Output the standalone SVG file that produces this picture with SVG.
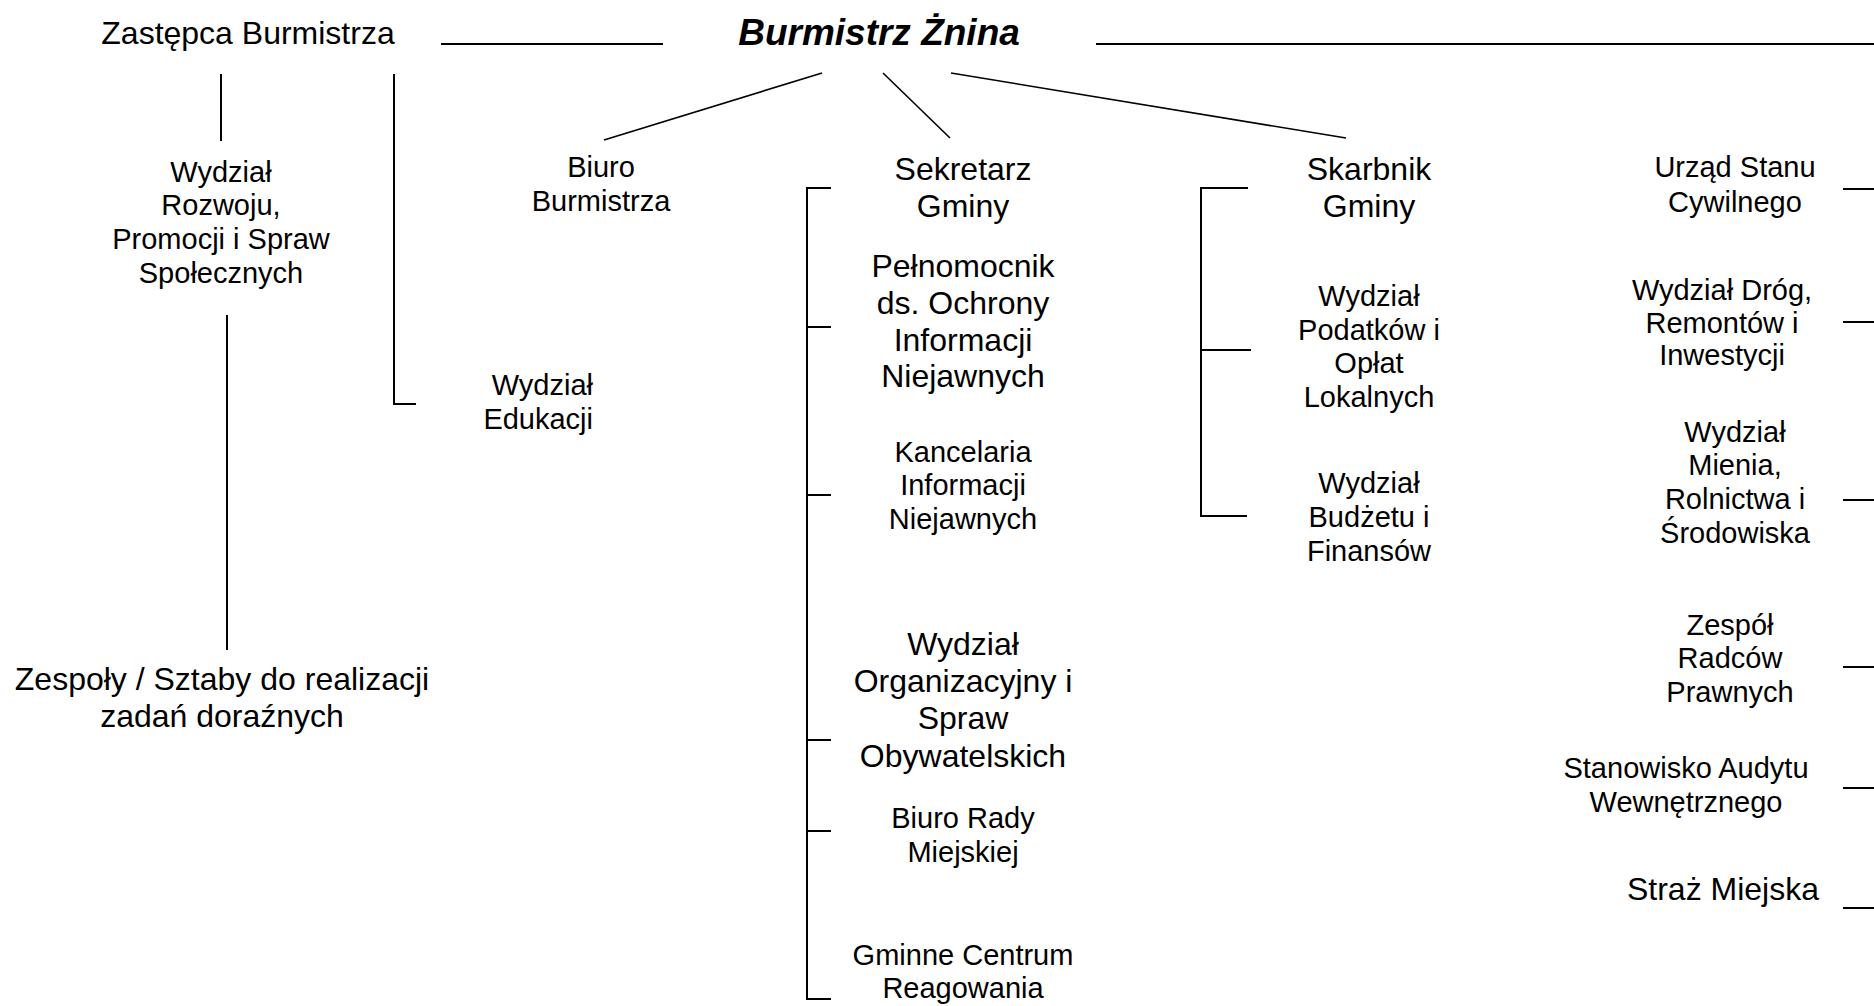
<svg xmlns="http://www.w3.org/2000/svg" width="1874" height="1006" viewBox="0 0 1874 1006">
<style>
text{font-family:"Liberation Sans",Arial,sans-serif;fill:#000;text-anchor:middle}
.s{font-size:29px}
.l{font-size:32px}
.t{font-size:37px;font-weight:bold;font-style:italic}
.c line,.c polyline{stroke:#000;stroke-width:2;fill:none}
.c .d{stroke-width:1.6}
</style>
<rect width="1874" height="1006" fill="#fff"/>
<g id="connectors" class="c">
<line x1="441" y1="44" x2="663" y2="44"/>
<line x1="1096" y1="44" x2="1874" y2="44"/>
<line class="d" x1="822" y1="73" x2="604" y2="140"/>
<line class="d" x1="883" y1="73" x2="950" y2="138"/>
<line class="d" x1="951" y1="73" x2="1346" y2="138"/>
<line x1="221" y1="74" x2="221" y2="141"/>
<polyline points="394,74 394,404 416,404"/>
<line x1="227" y1="315" x2="227" y2="650"/>
<polyline points="831,188 807,188 807,999 831,999"/>
<line x1="807" y1="327" x2="831" y2="327"/>
<line x1="807" y1="495" x2="831" y2="495"/>
<line x1="807" y1="740" x2="831" y2="740"/>
<line x1="807" y1="831" x2="831" y2="831"/>
<polyline points="1248,188 1201,188 1201,516 1247,516"/>
<line x1="1201" y1="350" x2="1251" y2="350"/>
<line x1="1843" y1="189" x2="1874" y2="189"/>
<line x1="1843" y1="322" x2="1874" y2="322"/>
<line x1="1843" y1="500" x2="1874" y2="500"/>
<line x1="1843" y1="667" x2="1874" y2="667"/>
<line x1="1843" y1="788" x2="1874" y2="788"/>
<line x1="1843" y1="908" x2="1874" y2="908"/>
</g>
<g id="zastepca"><text class="l" x="248" y="44">Zastępca Burmistrza</text></g>
<g id="burmistrz"><text class="t" x="879" y="45">Burmistrz Żnina</text></g>
<g id="wydzial-rozwoju"><text class="s" x="221"><tspan x="221" y="182">Wydział</tspan><tspan x="221" y="215">Rozwoju,</tspan><tspan x="221" y="249">Promocji i Spraw</tspan><tspan x="221" y="283">Społecznych</tspan></text></g>
<g id="zespoly"><text class="l" x="222"><tspan x="222" y="690">Zespoły / Sztaby do realizacji</tspan><tspan x="222" y="727">zadań doraźnych</tspan></text></g>
<g id="biuro-burmistrza"><text class="s" x="601"><tspan x="601" y="177">Biuro</tspan><tspan x="601" y="211">Burmistrza</tspan></text></g>
<g id="wydzial-edukacji"><text class="s" style="text-anchor:end"><tspan x="593" y="395">Wydział</tspan><tspan x="593" y="429">Edukacji</tspan></text></g>
<g id="sekretarz"><text class="l"><tspan x="963" y="180">Sekretarz</tspan><tspan x="963" y="217">Gminy</tspan></text></g>
<g id="pelnomocnik"><text class="l"><tspan x="963" y="277">Pełnomocnik</tspan><tspan x="963" y="314">ds. Ochrony</tspan><tspan x="963" y="351">Informacji</tspan><tspan x="963" y="387">Niejawnych</tspan></text></g>
<g id="kancelaria"><text class="s"><tspan x="963" y="462">Kancelaria</tspan><tspan x="963" y="495">Informacji</tspan><tspan x="963" y="529">Niejawnych</tspan></text></g>
<g id="wydzial-organizacyjny"><text class="l"><tspan x="963" y="655">Wydział</tspan><tspan x="963" y="692">Organizacyjny i</tspan><tspan x="963" y="729">Spraw</tspan><tspan x="963" y="767">Obywatelskich</tspan></text></g>
<g id="biuro-rady"><text class="s"><tspan x="963" y="828">Biuro Rady</tspan><tspan x="963" y="862">Miejskiej</tspan></text></g>
<g id="gcr"><text class="s"><tspan x="963" y="965">Gminne Centrum</tspan><tspan x="963" y="998">Reagowania</tspan></text></g>
<g id="skarbnik"><text class="l"><tspan x="1369" y="180">Skarbnik</tspan><tspan x="1369" y="217">Gminy</tspan></text></g>
<g id="wydzial-podatkow"><text class="s"><tspan x="1369" y="306">Wydział</tspan><tspan x="1369" y="340">Podatków i</tspan><tspan x="1369" y="373">Opłat</tspan><tspan x="1369" y="407">Lokalnych</tspan></text></g>
<g id="wydzial-budzetu"><text class="s"><tspan x="1369" y="493">Wydział</tspan><tspan x="1369" y="527">Budżetu i</tspan><tspan x="1369" y="561">Finansów</tspan></text></g>
<g id="usc"><text class="s"><tspan x="1735" y="177">Urząd Stanu</tspan><tspan x="1735" y="212">Cywilnego</tspan></text></g>
<g id="wydzial-drog"><text class="s"><tspan x="1722" y="300">Wydział Dróg,</tspan><tspan x="1722" y="333">Remontów i</tspan><tspan x="1722" y="365">Inwestycji</tspan></text></g>
<g id="wydzial-mienia"><text class="s"><tspan x="1735" y="442">Wydział</tspan><tspan x="1735" y="475">Mienia,</tspan><tspan x="1735" y="509">Rolnictwa i</tspan><tspan x="1735" y="543">Środowiska</tspan></text></g>
<g id="radcy"><text class="s"><tspan x="1730" y="635">Zespół</tspan><tspan x="1730" y="668">Radców</tspan><tspan x="1730" y="702">Prawnych</tspan></text></g>
<g id="audyt"><text class="s"><tspan x="1686" y="778">Stanowisko Audytu</tspan><tspan x="1686" y="812">Wewnętrznego</tspan></text></g>
<g id="straz"><text class="l" x="1723" y="900">Straż Miejska</text></g>
</svg>
